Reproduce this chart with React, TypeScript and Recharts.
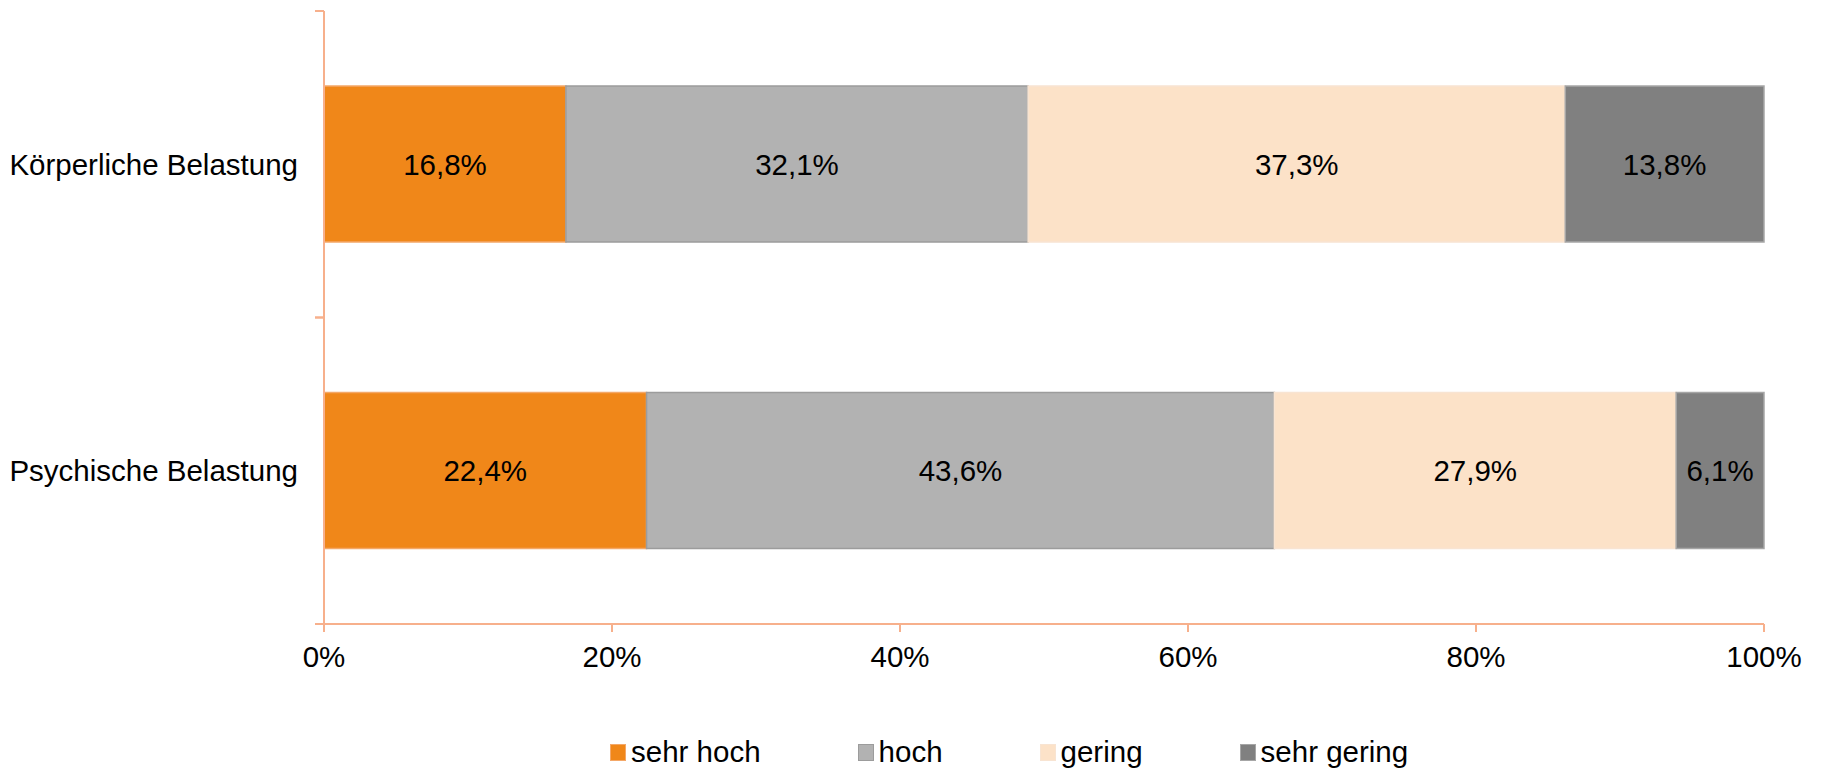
import React from "react";
import { BarChart, Bar, XAxis, YAxis, LabelList, Legend } from "recharts";

const categories = ["Körperliche Belastung", "Psychische Belastung"];
const sehrHoch = [16.8, 22.4];
const hoch = [32.1, 43.6];
const gering = [37.3, 27.9];
const sehrGering = [13.8, 6.1];
const xTicks = [0, 20, 40, 60, 80, 100];
const seriesNames = ["sehr hoch", "hoch", "gering", "sehr gering"];

const data = categories.map((c, i) => ({
  name: c,
  sehrHoch: sehrHoch[i],
  hoch: hoch[i],
  gering: gering[i],
  sehrGering: sehrGering[i],
}));

const FONT = "'Liberation Sans', Arial, sans-serif";
const FS = 29.5;
const AXIS = "#F7B08C";
const CAT_MARGIN = 26;
const TICK_LEN = 9;

const series = [
  { key: "sehrHoch", name: seriesNames[0], fill: "#F08719", stroke: "#F4A868" },
  { key: "hoch", name: seriesNames[1], fill: "#B2B2B2", stroke: "#9C9C9C" },
  { key: "gering", name: seriesNames[2], fill: "#FCE2C8", stroke: "#F8E4D2" },
  { key: "sehrGering", name: seriesNames[3], fill: "#808080", stroke: "#A6A6A6" },
];

const fmt = (v: any) => String(v).replace(".", ",") + "%";

const CatTick = (props: any) => {
  const { x, y, payload } = props;
  const off = payload && typeof payload.offset === "number" ? payload.offset : 0;
  const ax = x + CAT_MARGIN;
  return (
    <g>
      {off > 0 && (
        <>
          <line x1={ax - TICK_LEN} x2={ax} y1={y - off} y2={y - off} stroke={AXIS} strokeWidth={2} />
          <line x1={ax - TICK_LEN} x2={ax} y1={y + off} y2={y + off} stroke={AXIS} strokeWidth={2} />
        </>
      )}
      <text
        x={x}
        y={y}
        dy="0.355em"
        textAnchor="end"
        fill="#000"
        fontSize={FS}
        fontFamily={FONT}
      >
        {payload.value}
      </text>
    </g>
  );
};

const LegendContent = () => (
  <div
    style={{
      display: "flex",
      alignItems: "center",
      paddingLeft: 602,
      height: 30,
      fontFamily: FONT,
      fontSize: FS,
      color: "#000",
    }}
  >
    {series.map((s) => (
      <div key={s.key} style={{ display: "flex", alignItems: "center", marginRight: 97 }}>
        <div
          style={{
            width: 16,
            height: 17,
            background: s.fill,
            border: `1px solid ${s.stroke}`,
            boxSizing: "border-box",
            marginRight: 5,
          }}
        />
        <span style={{ lineHeight: "30px" }}>{s.name}</span>
      </div>
    ))}
  </div>
);

export default function App() {
  return (
    <div style={{ width: 1800, height: 760, fontFamily: FONT }}>
      <BarChart
        width={1800}
        height={760}
        data={data}
        layout="vertical"
        margin={{ top: 3, right: 44, left: 0, bottom: 1 }}
        barCategoryGap="24.5%"
      >
        <XAxis
          type="number"
          domain={[0, 100]}
          ticks={xTicks}
          tickFormatter={(v) => `${v}%`}
          axisLine={{ stroke: AXIS, strokeWidth: 2 }}
          tickLine={{ stroke: AXIS, strokeWidth: 2 }}
          tickSize={8}
          tickMargin={14}
          height={113}
          tick={{ fill: "#000", fontSize: FS, fontFamily: FONT }}
          interval={0}
        />
        <YAxis
          type="category"
          dataKey="name"
          width={316}
          axisLine={{ stroke: AXIS, strokeWidth: 2 }}
          tickLine={false}
          tickSize={0}
          tickMargin={CAT_MARGIN}
          tick={<CatTick />}
        />
        {series.map((s) => (
          <Bar
            key={s.key}
            dataKey={s.key}
            name={s.name}
            stackId="a"
            fill={s.fill}
            stroke={s.stroke}
            strokeWidth={1.5}
            isAnimationActive={false}
          >
            <LabelList
              dataKey={s.key}
              position="center"
              formatter={fmt}
              style={{ fill: "#000", fontSize: FS, fontFamily: FONT }}
            />
          </Bar>
        ))}
        <Legend verticalAlign="bottom" content={<LegendContent />} />
      </BarChart>
    </div>
  );
}
